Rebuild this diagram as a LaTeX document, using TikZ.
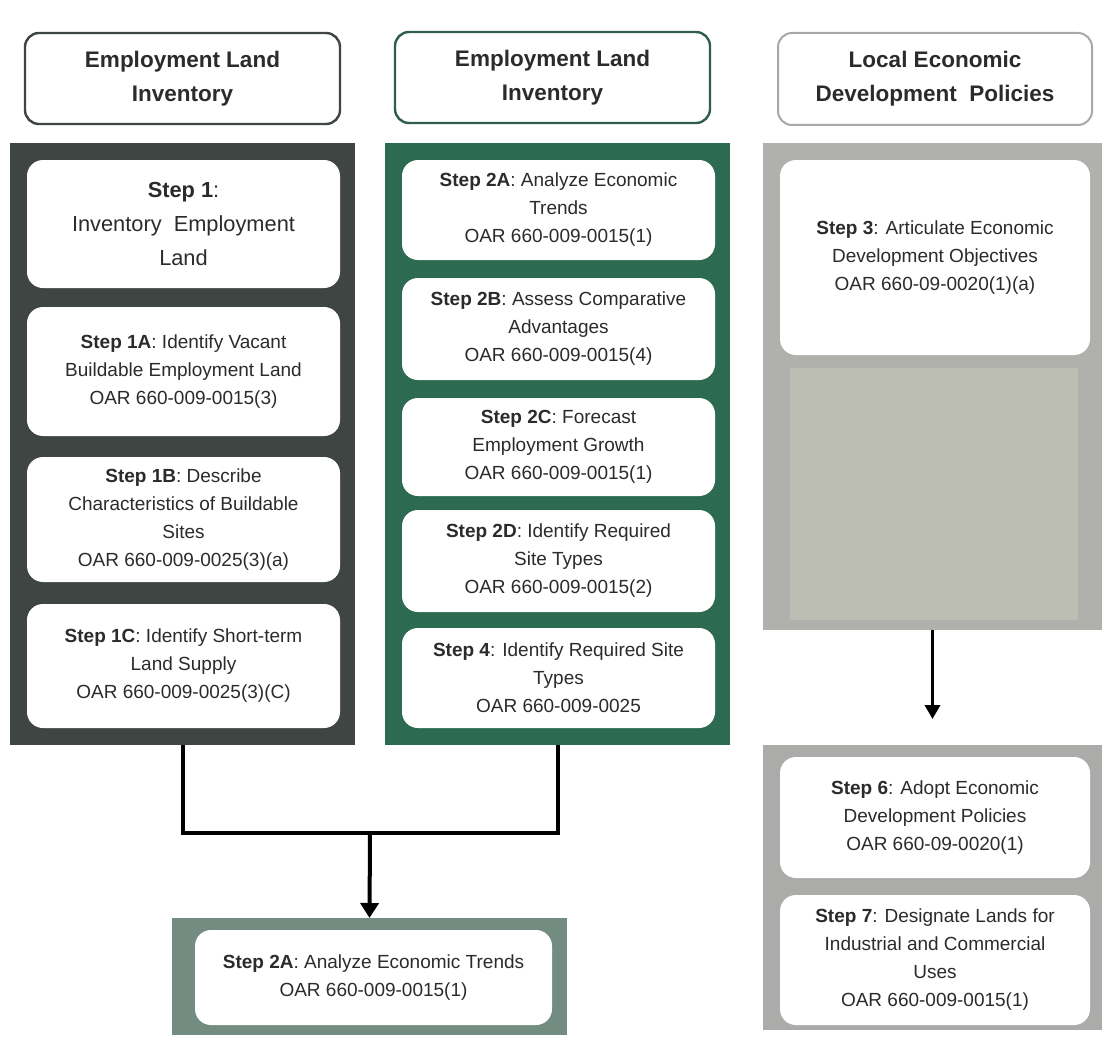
\documentclass[tikz,border=0pt]{standalone}
\usepackage{fontspec}
\setmainfont{Liberation Sans}
\usetikzlibrary{arrows.meta,positioning}
\definecolor{ink}{HTML}{2B2B2B}
\definecolor{slate}{HTML}{3E4542}
\definecolor{pine}{HTML}{2D6A52}
\definecolor{pineline}{HTML}{2F5F4A}
\definecolor{sage}{HTML}{738C81}
\definecolor{ash}{HTML}{B0B1AD}
\definecolor{ashcore}{HTML}{BCBDB3}
\definecolor{fog}{HTML}{ABACAA}
\definecolor{rim}{HTML}{A8A8A8}
\tikzset{
  panel/.style={draw=none, outer sep=0pt, inner sep=0pt},
  header/.style={rounded corners=14pt, draw=slate, line width=2.4pt, fill=white,
    align=center, text=ink, outer sep=0pt, minimum width=315pt, minimum height=91pt,
    font=\bfseries\fontsize{22.5}{34}\selectfont},
  stepcard/.style={rounded corners=16pt, draw=none, fill=white, align=center,
    text=ink, outer sep=0pt, minimum width=313pt, inner sep=4pt,
    font=\fontsize{19}{28}\selectfont},
  bigstep/.style={stepcard, font=\fontsize{21.8}{34}\selectfont},
  link/.style={draw=black, line width=4pt},
  arrow/.style={-{Triangle[length=15pt,width=18pt]}, draw=black, line width=4pt},
  thinarrow/.style={-{Triangle[length=14pt,width=15pt]}, draw=black, line width=3.5pt}
}
\newcommand{\stepnode}[6][]{%
  \node[stepcard, #1, minimum height=#5] (#2) at (#3,#4) {#6};
}

\begin{document}
\begin{tikzpicture}[x=1pt,y=-1pt]
  \useasboundingbox (0,0) rectangle (1102,1046);
  \fill[white] (0,0) rectangle (1102,1046);

  % Column headers.
  \node[header] (inv) at (182.5,78.5) {Employment Land\\Inventory};
  \node[header, draw=pineline] (invtwo) at (552.5,77.5) {Employment Land\\Inventory};
  \node[header, draw=rim, line width=2pt, minimum width=314pt, minimum height=92pt] (policy) at (935,79)
    {Local Economic\\Development\ \ Policies};

  % Column 1: inventory.
  \node[panel, fill=slate, minimum width=345pt, minimum height=602pt] (colone) at (182.5,444) {};
  \stepnode[bigstep]{stepone}{183.5}{224}{128pt}{\textbf{Step 1}:\\Inventory\ \ Employment\\Land}
  \stepnode{steponea}{183.5}{371.5}{129pt}{\textbf{Step 1A}: Identify Vacant\\Buildable Employment Land\\OAR 660-009-0015(3)}
  \stepnode{steponeb}{183.5}{519.5}{125pt}{\textbf{Step 1B}: Describe\\Characteristics of Buildable\\Sites\\OAR 660-009-0025(3)(a)}
  \stepnode{steponec}{183.5}{666}{124pt}{\textbf{Step 1C}: Identify Short-term\\Land Supply\\OAR 660-009-0025(3)(C)}

  % Column 2: economic analysis.
  \node[panel, fill=pine, minimum width=345pt, minimum height=602pt] (coltwo) at (557.5,444) {};
  \stepnode{steptwoa}{558.5}{210}{100pt}{\textbf{Step 2A}: Analyze Economic\\Trends\\OAR 660-009-0015(1)}
  \stepnode{steptwob}{558.5}{329}{102pt}{\textbf{Step 2B}: Assess Comparative\\Advantages\\OAR 660-009-0015(4)}
  \stepnode{steptwoc}{558.5}{447}{98pt}{\textbf{Step 2C}: Forecast\\Employment Growth\\OAR 660-009-0015(1)}
  \stepnode{steptwod}{558.5}{561}{102pt}{\textbf{Step 2D}: Identify Required\\Site Types\\OAR 660-009-0015(2)}
  \stepnode{stepfour}{558.5}{678}{100pt}{\textbf{Step 4}: Identify Required Site\\Types\\OAR 660-009-0025}

  % Column 3: policies.
  \node[panel, fill=ash, minimum width=339pt, minimum height=487pt] (colthree) at (932.5,386.5) {};
  \fill[ashcore] (790,368) rectangle (1078,620);
  \stepnode[minimum width=310pt]{stepthree}{935}{257.5}{195pt}{\textbf{Step 3}: Articulate Economic\\Development Objectives\\OAR 660-09-0020(1)(a)}

  \node[panel, fill=fog, minimum width=339pt, minimum height=285pt] (colfour) at (932.5,887.5) {};
  \stepnode[minimum width=310pt]{stepsix}{935}{817.5}{121pt}{\textbf{Step 6}: Adopt Economic\\Development Policies\\OAR 660-09-0020(1)}
  \stepnode[minimum width=310pt]{stepseven}{935}{960}{130pt}{\textbf{Step 7}: Designate Lands for\\Industrial and Commercial\\Uses\\OAR 660-009-0015(1)}
  \draw[thinarrow, shorten >=26pt] (colthree.south) -- (colfour.north);

  % Merge into the trends step.
  \node[panel, fill=sage, minimum width=395pt, minimum height=117pt] (merge) at (369.5,976.5) {};
  \stepnode[minimum width=357pt]{trends}{373.5}{977.5}{95pt}{\textbf{Step 2A}: Analyze Economic Trends\\OAR 660-009-0015(1)}

  \coordinate (join) at (370,833);
  \draw[link] (colone.south) |- (join) -| (coltwo.south);
  \draw[arrow] (join) -- (merge.north);

\end{tikzpicture}
\end{document}
